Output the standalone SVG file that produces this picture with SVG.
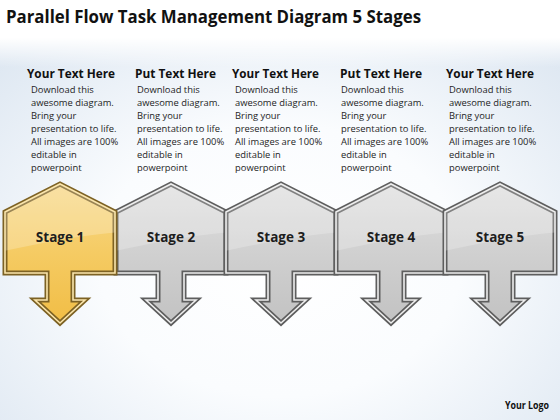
<svg xmlns="http://www.w3.org/2000/svg" xmlns:xlink="http://www.w3.org/1999/xlink" width="560" height="420" viewBox="0 0 560 420">
<style>
.title{font-family:"Open Sans","Liberation Sans",sans-serif;font-weight:bold;font-size:18px;fill:#111}
.head{font-family:"Open Sans","Liberation Sans",sans-serif;font-weight:bold;font-size:12.5px;fill:#111}
.body{font-family:"Open Sans","Liberation Sans",sans-serif;font-size:9.4px;fill:#1e1e1e}
.stage{font-family:"Open Sans","Liberation Sans",sans-serif;font-weight:bold;font-size:13.5px;fill:#1e1e1e;text-anchor:middle}
.logo{font-family:"Open Sans","Liberation Sans",sans-serif;font-weight:bold;font-size:10px;fill:#111}
.gold{fill:url(#gGold);stroke:#7d6224;stroke-width:5;stroke-linejoin:miter}
.grey{fill:url(#gGrey);stroke:#5e5e5e;stroke-width:5;stroke-linejoin:miter}
.goldHi{fill:none;stroke:#fbe6ad;stroke-width:1.6}
.greyHi{fill:none;stroke:#eeeeee;stroke-width:1.6}
.gloss{fill:#ffffff;opacity:0.22}
</style>
<defs>
<radialGradient id="bg" cx="0.5" cy="0.62" r="0.72">
<stop offset="0" stop-color="#ffffff"/>
<stop offset="0.45" stop-color="#fafcfe"/>
<stop offset="1" stop-color="#dce6f1"/>
</radialGradient>
<linearGradient id="topfade" x1="0" y1="0" x2="0" y2="1">
<stop offset="0" stop-color="#ffffff" stop-opacity="1"/>
<stop offset="0.09" stop-color="#ffffff" stop-opacity="1"/>
<stop offset="0.16" stop-color="#ffffff" stop-opacity="0"/>
<stop offset="1" stop-color="#ffffff" stop-opacity="0"/>
</linearGradient>
<linearGradient id="gGold" x1="0" y1="0" x2="0" y2="1">
<stop offset="0" stop-color="#f8d98a"/>
<stop offset="0.5" stop-color="#f5cb63"/>
<stop offset="1" stop-color="#f1bd45"/>
</linearGradient>
<linearGradient id="gGrey" x1="0" y1="0" x2="0" y2="1">
<stop offset="0" stop-color="#e0e0e0"/>
<stop offset="0.5" stop-color="#d0d0d0"/>
<stop offset="1" stop-color="#c2c2c2"/>
</linearGradient>
<path id="shape" d="M-55,212 L0,184 L55,212 L55,273 L13,273 L13,300 L25,300 L0,323 L-25,300 L-13,300 L-13,273 L-55,273 Z"/>
<clipPath id="clip"><use xlink:href="#shape"/></clipPath>
<path id="glossP" d="M-60,180 L60,180 L60,232 Q10,236 -60,252 Z"/>
</defs>
<rect width="560" height="420" fill="url(#bg)"/>
<rect width="560" height="420" fill="url(#topfade)"/>
<text class="title" x="6" y="23" textLength="415" lengthAdjust="spacingAndGlyphs">Parallel Flow Task Management Diagram 5 Stages</text>

<g id="text1">
<text class="head" x="27" y="77.5" textLength="88" lengthAdjust="spacingAndGlyphs">Your Text Here</text>
<text class="body" x="31"><tspan x="31" y="92.5">Download this</tspan><tspan x="31" y="105.5">awesome diagram.</tspan><tspan x="31" y="118.5">Bring your</tspan><tspan x="31" y="131.5">presentation to life.</tspan><tspan x="31" y="144.5">All images are 100%</tspan><tspan x="31" y="157.5">editable in</tspan><tspan x="31" y="170.5">powerpoint</tspan></text>
</g>
<g id="text2">
<text class="head" x="135" y="77.5" textLength="81" lengthAdjust="spacingAndGlyphs">Put Text Here</text>
<text class="body" x="137"><tspan x="137" y="92.5">Download this</tspan><tspan x="137" y="105.5">awesome diagram.</tspan><tspan x="137" y="118.5">Bring your</tspan><tspan x="137" y="131.5">presentation to life.</tspan><tspan x="137" y="144.5">All images are 100%</tspan><tspan x="137" y="157.5">editable in</tspan><tspan x="137" y="170.5">powerpoint</tspan></text>
</g>
<g id="text3">
<text class="head" x="232" y="77.5" textLength="87" lengthAdjust="spacingAndGlyphs">Your Text Here</text>
<text class="body" x="235"><tspan x="235" y="92.5">Download this</tspan><tspan x="235" y="105.5">awesome diagram.</tspan><tspan x="235" y="118.5">Bring your</tspan><tspan x="235" y="131.5">presentation to life.</tspan><tspan x="235" y="144.5">All images are 100%</tspan><tspan x="235" y="157.5">editable in</tspan><tspan x="235" y="170.5">powerpoint</tspan></text>
</g>
<g id="text4">
<text class="head" x="340" y="77.5" textLength="82" lengthAdjust="spacingAndGlyphs">Put Text Here</text>
<text class="body" x="341"><tspan x="341" y="92.5">Download this</tspan><tspan x="341" y="105.5">awesome diagram.</tspan><tspan x="341" y="118.5">Bring your</tspan><tspan x="341" y="131.5">presentation to life.</tspan><tspan x="341" y="144.5">All images are 100%</tspan><tspan x="341" y="157.5">editable in</tspan><tspan x="341" y="170.5">powerpoint</tspan></text>
</g>
<g id="text5">
<text class="head" x="446" y="77.5" textLength="88" lengthAdjust="spacingAndGlyphs">Your Text Here</text>
<text class="body" x="449"><tspan x="449" y="92.5">Download this</tspan><tspan x="449" y="105.5">awesome diagram.</tspan><tspan x="449" y="118.5">Bring your</tspan><tspan x="449" y="131.5">presentation to life.</tspan><tspan x="449" y="144.5">All images are 100%</tspan><tspan x="449" y="157.5">editable in</tspan><tspan x="449" y="170.5">powerpoint</tspan></text>
</g>

<g id="connectors"></g>

<g id="stage2" transform="translate(171,0)">
<use xlink:href="#shape" class="grey"/>
<use xlink:href="#glossP" class="gloss" clip-path="url(#clip)"/>
<use xlink:href="#shape" class="greyHi"/>
<text class="stage" x="0" y="242">Stage 2</text>
</g>
<g id="stage3" transform="translate(281,0)">
<use xlink:href="#shape" class="grey"/>
<use xlink:href="#glossP" class="gloss" clip-path="url(#clip)"/>
<use xlink:href="#shape" class="greyHi"/>
<text class="stage" x="0" y="242">Stage 3</text>
</g>
<g id="stage4" transform="translate(391,0)">
<use xlink:href="#shape" class="grey"/>
<use xlink:href="#glossP" class="gloss" clip-path="url(#clip)"/>
<use xlink:href="#shape" class="greyHi"/>
<text class="stage" x="0" y="242">Stage 4</text>
</g>
<g id="stage5" transform="translate(500,0)">
<use xlink:href="#shape" class="grey"/>
<use xlink:href="#glossP" class="gloss" clip-path="url(#clip)"/>
<use xlink:href="#shape" class="greyHi"/>
<text class="stage" x="0" y="242">Stage 5</text>
</g>
<g id="stage1" transform="translate(60,0)">
<use xlink:href="#shape" class="gold"/>
<use xlink:href="#glossP" class="gloss" clip-path="url(#clip)"/>
<use xlink:href="#shape" class="goldHi"/>
<text class="stage" x="0" y="242">Stage 1</text>
</g>

<text class="logo" x="505" y="409" textLength="44" lengthAdjust="spacingAndGlyphs">Your Logo</text>
</svg>
